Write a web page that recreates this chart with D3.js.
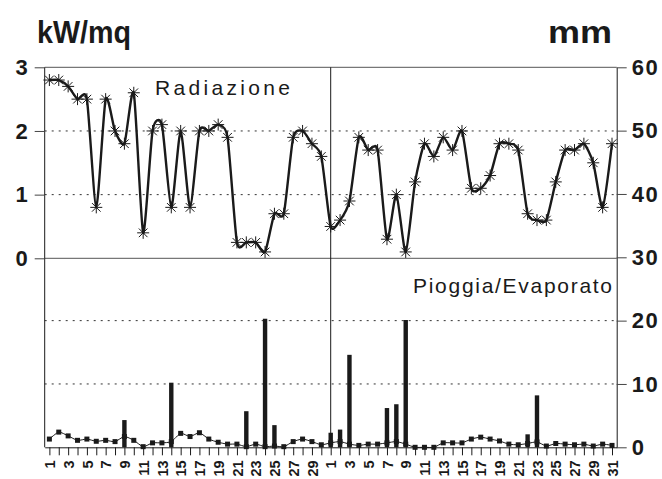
<!DOCTYPE html>
<html><head><meta charset="utf-8">
<script src="https://cdn.jsdelivr.net/npm/d3@7"></script>
<style>body{margin:0;background:#fff} svg{display:block}</style>
</head><body>
<svg id="c" width="662" height="479"></svg>
<script>
const days = [1,2,3,4,5,6,7,8,9,10,11,12,13,14,15,16,17,18,19,20,21,22,23,24,25,26,27,28,29,30,
              1,2,3,4,5,6,7,8,9,10,11,12,13,14,15,16,17,18,19,20,21,22,23,24,25,26,27,28,29,30,31];
const radiazione = [2.8,2.8,2.7,2.5,2.5,0.8,2.5,2.0,1.8,2.6,0.4,2.0,2.1,0.8,2.0,0.8,2.0,2.0,2.1,1.9,0.25,0.25,0.25,0.1,0.7,0.7,1.9,2.0,1.8,1.6,
                    0.5,0.6,0.9,1.9,1.7,1.7,0.3,1.0,0.1,1.2,1.8,1.6,1.9,1.7,2.0,1.1,1.1,1.3,1.8,1.8,1.7,0.7,0.6,0.6,1.2,1.7,1.7,1.8,1.5,0.8,1.8];
const pioggia = [0,0,0,0,0,0,0,0,4.3,0,0,0,0,10.2,0,0,0,0,0,0,0,5.7,0,20.3,3.5,0,0,0,0,0,
                 2.3,2.8,14.6,0,0,0,6.2,6.8,20.1,0,0,0,0,0,0,0,0,0,0,0,0,2.05,8.2,0,0,0,0,0,0,0,0];
const evaporato = [1.3,2.4,1.8,1.1,1.3,0.95,1.1,0.9,1.7,1.1,0.1,0.7,0.7,0.9,2.2,1.7,2.3,1.3,0.8,0.5,0.5,0.1,0.5,0.1,0.2,0.1,0.9,1.3,0.9,0.4,
                   0.7,0.9,0.5,0.3,0.5,0.5,0.7,0.9,0.5,0.0,0.0,0.0,0.7,0.7,0.7,1.3,1.6,1.3,1.0,0.5,0.4,0.6,0.85,0.2,0.6,0.5,0.4,0.5,0.2,0.5,0.3];
const leftTicks = [0,1,2,3];
const rightTicks = [0,10,20,30,40,50,60];
const leftGrid = [1,2];
const rightGrid = [10,20];
const monthStart = 30;

const svg = d3.select("#c");
const X0 = 44.7, X1 = 616.7, YT = 67.3, YM = 258.3, YB = 447.3;
const idx = d3.range(days.length);
const x = d3.scalePoint().domain(idx).range([X0, X1]).padding(0.5);
const yL = d3.scaleLinear().domain([0, 3]).range([YM, YT]);
const yR = d3.scaleLinear().domain([0, 60]).range([YB, YT]);
const FONT = "'Liberation Sans', Arial, Helvetica, sans-serif";
const ink = "#1a1a1a";

// gridlines
svg.append("g").selectAll("line").data(leftGrid).join("line")
  .attr("x1", X0).attr("x2", X1).attr("y1", d => yL(d)).attr("y2", d => yL(d))
  .attr("stroke", "#333").attr("stroke-width", 1).attr("stroke-dasharray", "2,5");
svg.append("g").selectAll("line").data(rightGrid).join("line")
  .attr("x1", X0).attr("x2", X1).attr("y1", d => yR(d)).attr("y2", d => yR(d))
  .attr("stroke", "#333").attr("stroke-width", 1).attr("stroke-dasharray", "2,5");

// frame lines
svg.append("line").attr("x1", X0).attr("x2", X1).attr("y1", YT).attr("y2", YT).attr("stroke", "#555");
svg.append("line").attr("x1", X0).attr("x2", X1).attr("y1", YM).attr("y2", YM).attr("stroke", "#555");
svg.append("line").attr("x1", X0).attr("x2", X0).attr("y1", YT).attr("y2", YB).attr("stroke", ink);
svg.append("line").attr("x1", x(monthStart)).attr("x2", x(monthStart)).attr("y1", YT).attr("y2", YB).attr("stroke", ink);

// left axis
const gl = svg.append("g").attr("transform", `translate(${X0},0)`)
  .call(d3.axisLeft(yL).tickValues(leftTicks).tickSize(10).tickSizeOuter(0).tickPadding(7).tickFormat(d3.format("d")));
gl.select(".domain").remove();
gl.selectAll("line").attr("stroke", "#444");
gl.selectAll("text").attr("font-family", FONT).attr("font-weight", "bold").attr("font-size", 22).attr("fill", ink);

// right axis
const gr = svg.append("g").attr("transform", `translate(${X1},0)`)
  .call(d3.axisRight(yR).tickValues(rightTicks).tickSize(10).tickSizeOuter(0).tickPadding(5).tickFormat(d3.format("d")));
gr.select(".domain").attr("stroke", ink);
gr.selectAll("line").attr("stroke", "#444");
gr.selectAll("text").attr("font-family", FONT).attr("font-weight", "bold").attr("font-size", 22)
  .attr("letter-spacing", 1.5).attr("fill", ink);

// bottom axis
const gb = svg.append("g").attr("transform", `translate(0,${YB})`)
  .call(d3.axisBottom(x).tickSize(8).tickSizeOuter(0).tickFormat(i => days[i] % 2 === 1 ? String(days[i]) : ""));
gb.select(".domain").attr("stroke", ink);
gb.selectAll(".tick line").attr("stroke", ink);
gb.selectAll("text").attr("transform", "rotate(-90)").attr("x", -13).attr("y", 0).attr("dy", "0.36em")
  .style("text-anchor", "end").attr("font-family", FONT).attr("font-weight", "bold").attr("font-size", 14.5).attr("fill", ink);

// evaporato line
const curve = d3.curveCardinal.tension(0.35);
svg.append("path").datum(evaporato)
  .attr("d", d3.line().x((d, i) => x(i)).y(d => yR(d)).curve(curve))
  .attr("fill", "none").attr("stroke", ink).attr("stroke-width", 1);
svg.append("g").selectAll("rect").data(evaporato).join("rect")
  .attr("x", (d, i) => x(i) - 2.5).attr("y", d => yR(d) - 2.5).attr("width", 5).attr("height", 5).attr("fill", ink);

// pioggia bars
svg.append("g").selectAll("rect").data(pioggia).join("rect")
  .attr("x", (d, i) => x(i) - 2.2).attr("width", 4.4)
  .attr("y", d => yR(d)).attr("height", d => YB - yR(d)).attr("fill", ink);

// radiazione
svg.append("path").datum(radiazione)
  .attr("d", d3.line().x((d, i) => x(i)).y(d => yL(d)).curve(curve))
  .attr("fill", "none").attr("stroke", ink).attr("stroke-width", 2.4);
const s = 6;
const star = `M${-s},0L${s},0M0,${-s}L0,${s}M${-s*0.72},${-s*0.72}L${s*0.72},${s*0.72}M${-s*0.72},${s*0.72}L${s*0.72},${-s*0.72}`;
svg.append("g").selectAll("path").data(radiazione).join("path")
  .attr("transform", (d, i) => `translate(${x(i)},${yL(d)})`)
  .attr("d", star).attr("stroke", ink).attr("stroke-width", 1).attr("fill", "none");

// titles
svg.append("text").attr("x", 37).attr("y", 43).text("kW/mq")
  .attr("font-family", FONT).attr("font-weight", "bold").attr("font-size", 32).attr("fill", ink)
  .attr("textLength", 94).attr("lengthAdjust", "spacingAndGlyphs");
svg.append("text").attr("x", 548).attr("y", 43).text("mm")
  .attr("font-family", FONT).attr("font-weight", "bold").attr("font-size", 32).attr("fill", ink)
  .attr("textLength", 64).attr("lengthAdjust", "spacingAndGlyphs");
svg.append("text").attr("x", 155).attr("y", 95).text("Radiazione")
  .attr("font-family", FONT).attr("font-size", 21).attr("fill", ink)
  .attr("textLength", 135).attr("lengthAdjust", "spacing");
svg.append("text").attr("x", 413).attr("y", 293).text("Pioggia/Evaporato")
  .attr("font-family", FONT).attr("font-size", 21).attr("fill", ink)
  .attr("textLength", 199).attr("lengthAdjust", "spacing");
</script>
</body></html>
